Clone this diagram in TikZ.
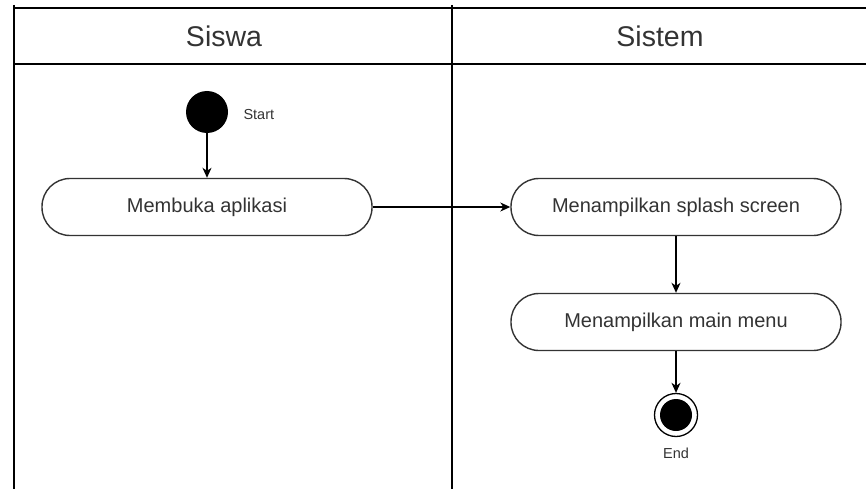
\documentclass[tikz,border=0pt]{standalone}
\usepackage{fontspec}
\setmainfont{Liberation Sans}
\usetikzlibrary{arrows.meta}
\definecolor{ink}{HTML}{333333}
\tikzset{
  lane/.style={line width=1.6pt, draw=black},
  act/.style={draw=ink, line width=1.4pt, rounded corners=28pt, minimum width=330pt, minimum height=57pt, inner sep=0pt, text=ink, font=\fontsize{20}{22}\selectfont},
  flow/.style={line width=1.3pt, draw=black, -{Stealth[length=10pt,width=9pt,inset=3pt]}},
  head/.style={text=ink, font=\fontsize{28.5}{31}\selectfont},
  tag/.style={text=ink, font=\fontsize{14.5}{16}\selectfont},
}
\begin{document}
\begin{tikzpicture}[x=1pt,y=-1pt]
  \useasboundingbox (0,0) rectangle (866,489);
  % swimlane frame
  \draw[lane] (14,5) -- (14,489);
  \draw[lane] (452,5) -- (452,489);
  \draw[lane] (14,8) -- (866,8);
  \draw[lane] (14,64) -- (866,64);
  \node[head] (siswa) at (224,36) {Siswa};
  \node[head] (sistem) at (660,36) {Sistem};
  % initial node
  \node[circle, fill=black, minimum size=42pt, inner sep=0pt] (start) at (207,112) {};
  \node[tag, anchor=west] (startlbl) at (240,115) {Start};
  % actions
  \node[act] (buka) at (207,207) {Membuka aplikasi};
  \node[act] (splash) at (676,207) {Menampilkan splash screen};
  \node[act] (menu) at (676,322) {Menampilkan main menu};
  % final node
  \node[circle, draw=black, line width=1.3pt, fill=white, minimum size=43pt, inner sep=0pt] (end) at (676,415) {};
  \node[circle, fill=black, minimum size=32pt, inner sep=0pt] (endin) at (end) {};
  \node[tag] (endlbl) at (676,453) {End};
  % control flow
  \draw[flow] (start) -- (buka);
  \draw[flow] (buka) -- (splash);
  \draw[flow] (splash) -- (menu);
  \draw[flow] (menu) -- (end);
\end{tikzpicture}
\end{document}
